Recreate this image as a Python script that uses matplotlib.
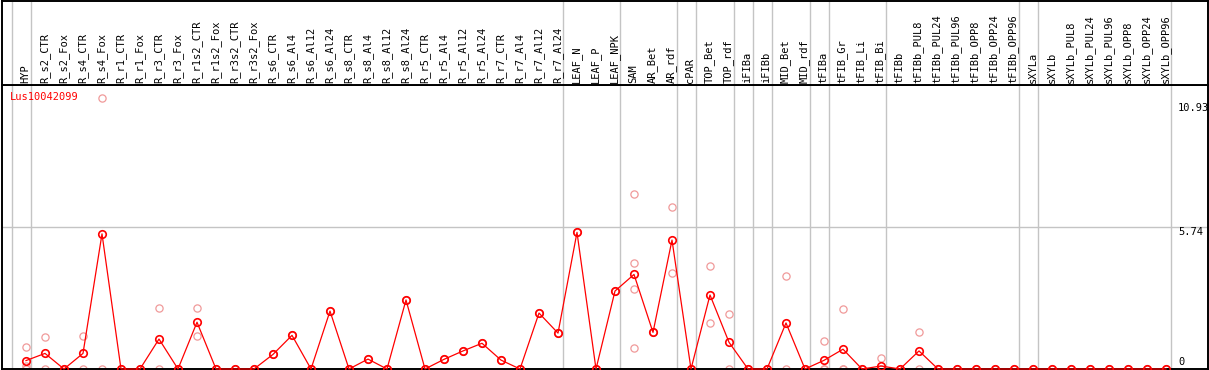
import matplotlib
matplotlib.use("Agg")
import matplotlib.pyplot as plt
import matplotlib.transforms as mtransforms

# sample columns (left to right)
samples = ["HYP", "R_s2_CTR", "R_s2_Fox", "R_s4_CTR", "R_s4_Fox", "R_r1_CTR", "R_r1_Fox",
           "R_r3_CTR", "R_r3_Fox", "R_r1s2_CTR", "R_r1s2_Fox", "R_r3s2_CTR", "R_r3s2_Fox",
           "R_s6_CTR", "R_s6_Al4", "R_s6_Al12", "R_s6_Al24", "R_s8_CTR", "R_s8_Al4",
           "R_s8_Al12", "R_s8_Al24", "R_r5_CTR", "R_r5_Al4", "R_r5_Al12", "R_r5_Al24",
           "R_r7_CTR", "R_r7_Al4", "R_r7_Al12", "R_r7_Al24", "LEAF_N", "LEAF_P", "LEAF_NPK",
           "SAM", "AR_Bet", "AR_rdf", "cPAR", "TOP_Bet", "TOP_rdf", "iFIBa", "iFIBb",
           "MID_Bet", "MID_rdf", "tFIBa", "tFIB_Gr", "tFIB_Li", "tFIB_Bi", "tFIBb",
           "tFIBb_PUL8", "tFIBb_PUL24", "tFIBb_PUL96", "tFIBb_OPP8", "tFIBb_OPP24",
           "tFIBb_OPP96", "sXYLa", "sXYLb", "sXYLb_PUL8", "sXYLb_PUL24", "sXYLb_PUL96",
           "sXYLb_OPP8", "sXYLb_OPP24", "sXYLb_OPP96"]

# mean expression per sample
means = [0.34, 0.63, 0, 0.63, 5.46, 0, 0, 1.21, 0, 1.89, 0, 0, 0, 0.59, 1.36, 0, 2.34,
         0, 0.40, 0, 2.79, 0, 0.39, 0.73, 1.04, 0.36, 0, 2.26, 1.45, 5.52, 0, 3.15,
         3.82, 1.48, 5.21, 0, 2.99, 1.08, 0, 0, 1.86, 0, 0.35, 0.80, 0, 0.12, 0,
         0.73, 0, 0, 0, 0, 0, 0, 0, 0, 0, 0, 0, 0, 0]

# individual replicates (only where they differ from the mean)
replicates = {
    "HYP": [0.88, 0.14, 0],
    "R_s2_CTR": [1.29, 0],
    "R_s4_CTR": [1.33, 0],
    "R_s4_Fox": [10.93, 0],
    "R_r3_CTR": [2.45, 0],
    "R_r1s2_CTR": [2.45, 1.32],
    "SAM": [7.07, 4.27, 3.22, 0.84],
    "AR_rdf": [6.55, 3.87],
    "TOP_Bet": [4.15, 1.85],
    "TOP_rdf": [2.22, 0],
    "MID_Bet": [3.75, 0],
    "tFIBa": [1.12, 0, 0],
    "tFIB_Gr": [2.41, 0, 0],
    "tFIB_Bi": [0.43, 0, 0],
    "tFIBb_PUL8": [1.48, 0],
}

# tissue group separators: drawn after these columns
group_ends = ["HYP", "R_r7_Al24", "LEAF_NPK", "AR_rdf", "cPAR", "TOP_rdf", "iFIBa",
              "iFIBb", "MID_rdf", "tFIBa", "tFIB_Bi", "tFIBb_OPP96", "sXYLa", "sXYLb_OPP96"]

gene = "Lus10042099"
scale_ticks = [10.93, 5.74, 0]

W, H = 1209, 370
fig = plt.figure(figsize=(W / 100, H / 100), dpi=100)
mono = "DejaVu Sans Mono"

x0, x1 = 1.5, 1207.5
ax = fig.add_axes([x0 / W, 1 / H, (x1 - x0) / W, (369 - 85) / H])
hd = fig.add_axes([x0 / W, (370 - 85) / H, (x1 - x0) / W, 84.5 / H])

xlim = ((x0 - 26) / 19, (x1 - 26) / 19)
ax.set_xlim(*xlim)
ax.set_ylim(0, (369 - 85) / 24.75)
hd.set_xlim(*xlim)
hd.set_ylim(0, 1)
for a in (ax, hd):
    a.set_xticks([])
    a.set_yticks([])
    for s in a.spines.values():
        s.set_color("black")
        s.set_linewidth(1.4)

idx = list(range(len(samples)))

seps = [-1] + [samples.index(n) for n in group_ends]
for s in seps:
    ax.axvline(s + 0.25, color="#c4c4c4", lw=1.0, zorder=0)
    hd.axvline(s + 0.25, color="#c4c4c4", lw=1.0, zorder=0)

ax.axhline(5.74, color="#c4c4c4", lw=1.0, zorder=0)

# replicate points
rx, ry = [], []
for i, name in enumerate(samples):
    vals = replicates.get(name, [means[i], means[i]])
    rx += [i] * len(vals)
    ry += vals
ax.plot(rx, ry, "o", ms=5.2, mfc="none", mec="#f09a9a", mew=0.9, clip_on=False, zorder=2)

# mean line
ax.plot(idx, means, "-", color="red", lw=0.9, zorder=3, clip_on=False)
ax.plot(idx, means, "o", ms=5.4, mfc="none", mec="red", mew=1.2, zorder=4, clip_on=False)

# column labels
tr = mtransforms.blended_transform_factory(hd.transData, hd.transAxes)
for i, name in enumerate(samples):
    hd.text(i - 0.03, 2 / 84.5, name, rotation=90, ha="center", va="bottom",
            fontsize=7.5, family=mono, transform=tr)

ax.annotate(gene, xy=(0, 1), xycoords="axes fraction", xytext=(8.5, -12),
            textcoords="offset pixels", ha="left", va="center", color="red",
            fontsize=7.5, family=mono)

tx = (1178 - x0) / (x1 - x0)
offs = {10.93: -9.5, 5.74: -5.5, 0: 7}
for v in scale_ticks:
    ax.annotate(f"{v:g}", xy=(tx, v), xycoords=("axes fraction", "data"),
                xytext=(0, offs[v]), textcoords="offset pixels", ha="left",
                va="center", fontsize=7.5, family=mono)

fig.savefig("out.png", dpi=100)
